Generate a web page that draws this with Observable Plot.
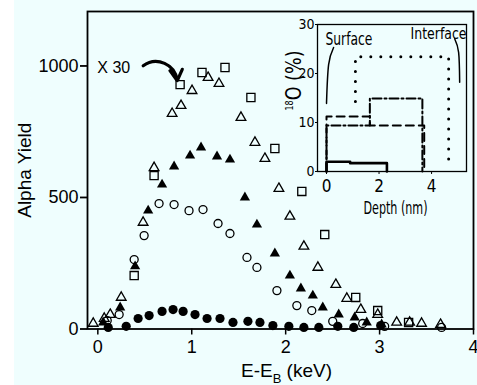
<!DOCTYPE html>
<html><head><meta charset="utf-8">
<script src="https://cdn.jsdelivr.net/npm/d3@7"></script>
<script src="https://cdn.jsdelivr.net/npm/@observablehq/plot@0.6"></script>
<style>
body{margin:0;background:#fff;}
#wrap{position:relative;width:477px;height:385px;overflow:hidden;}
#bg{position:absolute;left:14px;top:0;width:463px;height:385px;background:#effefe;}
#main{position:absolute;left:14px;top:0;}
#inset{position:absolute;left:270px;top:0;}
</style></head><body>
<div id="wrap"><div id="bg"></div><div id="main"></div><div id="inset"></div></div>
<script>
// ---- main chart data (E-E_B in keV, alpha yield) ----
const squareX = [0.387,0.599,0.876,1.109,1.354,1.630,1.885,2.172,2.416,2.746,2.980,3.309];
const squareY = [203,583,929,975,994,880,686,523,359,120,70,25];

const openTriX = [-0.049,0.068,0.132,0.249,0.482,0.599,0.791,0.886,1.003,1.174,1.290,1.524,1.673,1.779,1.928,2.045,2.194,2.343,2.534,2.651,2.800,2.980,3.182,3.320,3.447,3.649];
const openTriY = [21,40,55,120,405,613,819,849,906,956,933,804,709,648,534,428,314,234,169,116,74,55,25,25,21,17];

const fillTriX = [0.057,0.238,0.397,0.536,0.684,0.812,0.982,1.099,1.269,1.407,1.566,1.694,1.885,2.045,2.162,2.289,2.395,2.565,2.735,2.863,3.022];
const fillTriY = [25,82,238,450,549,618,659,690,656,644,500,397,287,203,154,127,82,55,44,25,17];

const openCircX = [0.100,0.227,0.387,0.493,0.652,0.812,0.971,1.120,1.280,1.407,1.588,1.694,1.907,2.119,2.278,2.501,2.820,3.054,3.660];
const openCircY = [32,55,264,355,477,473,450,454,401,363,272,234,146,89,70,29,21,10,6];

const fillCircX = [0.111,0.302,0.429,0.546,0.684,0.801,0.908,1.035,1.163,1.301,1.439,1.598,1.726,1.864,2.034,2.194,2.353,2.555,2.725,3.012];
const fillCircY = [6,10,40,51,67,74,67,55,40,40,25,29,25,13,10,6,6,10,6,13];

const xTicks = [0,1,2,3,4];
const yTicks = [0,500,1000];
const yLabel = "Alpha Yield";
const xLabelParts = ["E-E", "B", " (keV)"];

// annotation "X 30" and its arrow (data coordinates)
const x30Text = ["X 30"];
const x30Pos = {x: [-0.006], y: [992]};
const arrowFrom = {x: 0.483, y: 1001};
const arrowTo = {x: 0.846, y: 944};

// ---- inset data (depth nm, 18O %) ----
const solidDepth = [0, 0, 0.9, 0.9, 2.3, 2.3];
const solidPct   = [0, 2.0, 2.0, 1.7, 1.7, 0];
const dashDepth  = [0, 0, 1.65, 1.65, 3.72, 3.72];
const dashPct    = [0, 11.2, 11.2, 9.4, 9.4, 0];
const dashDotDepth = [0, 0, 1.65, 1.65, 3.65, 3.65];
const dashDotPct   = [0, 9.4, 9.4, 14.9, 14.9, 0];
const dotDepth = [1.1, 1.1, 4.65, 4.65];
const dotPct   = [14.3, 23.4, 23.4, 2.5];
const insetXTicks = [0,2,4];
const insetYTicks = [0,10,20,30];
const surfaceLeader = {x: [0.27, 0.08, 0.0], y: [25.3, 21.8, 13.9]};
const interfaceLeader = {x: [4.88, 5.03, 5.07], y: [27.1, 24.3, 18.2]};
const surfaceLabel = {text: ["Surface"], x: [-0.04], y: [26.9]};
const interfaceLabel = {text: ["Interface"], x: [3.2], y: [28.0]};
const insetXLabel = "Depth (nm)";
const insetYLabelParts = ["18", "O (%)"];

const FONT = "'Liberation Sans', Arial, Helvetica, sans-serif";
const NARROW = "'Liberation Sans Narrow', 'DejaVu Sans Condensed', 'Liberation Sans', sans-serif";
const rows = (xs, ys) => xs.map((x, i) => ({x, y: ys[i]}));
const ns = "http://www.w3.org/2000/svg";

const main = Plot.plot({
  width: 463, height: 385,
  marginLeft: 73, marginRight: 4, marginTop: 11, marginBottom: 56.5,
  style: {background: "transparent", fontFamily: FONT, fontSize: "18px", color: "black"},
  x: {domain: [-0.11, 4.0]},
  y: {domain: [0, 1207]},
  marks: [
    Plot.frame({stroke: "black", strokeWidth: 1.8}),
    Plot.axisY(yTicks, {tickSize: 7, tickPadding: 2, tickFormat: "d", label: null, fontSize: 18, strokeWidth: 1.8}),
    Plot.axisX(xTicks, {tickSize: 6, tickPadding: 5, tickFormat: "d", label: null, fontSize: 18, strokeWidth: 1.5}),
    Plot.dot(rows(fillCircX, fillCircY), {x: "x", y: "y", r: 4.6, fill: "black", stroke: "none"}),
    Plot.dot(rows(openCircX, openCircY), {x: "x", y: "y", r: 4, fill: "none", stroke: "black", strokeWidth: 1.3}),
    Plot.dot(rows(fillTriX, fillTriY), {x: "x", y: "y", r: 3.8, symbol: "triangle", fill: "black", stroke: "none"}),
    Plot.dot(rows(openTriX, openTriY), {x: "x", y: "y", r: 3.6, symbol: "triangle", fill: "none", stroke: "black", strokeWidth: 1.3}),
    Plot.dot(rows(squareX, squareY), {x: "x", y: "y", r: 4.6, symbol: "square", fill: "none", stroke: "black", strokeWidth: 1.3}),
    Plot.text(x30Text, {x: x30Pos.x, y: x30Pos.y, text: d => d, textAnchor: "start", fontSize: 16}),
    Plot.arrow([0], {x1: arrowFrom.x, y1: arrowFrom.y, x2: arrowTo.x, y2: arrowTo.y, bend: 60, strokeWidth: 3.2, headLength: 9, stroke: "black"}),
    Plot.text([yLabel], {frameAnchor: "left", textAnchor: "middle", lineAnchor: "middle", rotate: -90, dx: -63, fontSize: 19}),
    Plot.text([xLabelParts.join("")], {frameAnchor: "bottom", textAnchor: "middle", lineAnchor: "middle", dx: 6, dy: 42, fontSize: 19})
  ]
});
document.getElementById("main").appendChild(main);

// build subscript in x label
for (const t of main.querySelectorAll("text")) {
  if (t.textContent === xLabelParts.join("")) {
    while (t.firstChild) t.removeChild(t.firstChild);
    const a = document.createElementNS(ns, "tspan"); a.textContent = xLabelParts[0];
    const b = document.createElementNS(ns, "tspan"); b.textContent = xLabelParts[1];
    b.setAttribute("font-size", "13"); b.setAttribute("dy", "6");
    const c = document.createElementNS(ns, "tspan"); c.textContent = xLabelParts[2];
    c.setAttribute("dy", "-6");
    t.append(a, b, c);
  }
}

const inset = Plot.plot({
  width: 207, height: 220,
  marginLeft: 47, marginRight: 11, marginTop: 24, marginBottom: 49,
  style: {background: "transparent", fontFamily: NARROW, fontSize: "13px", color: "black"},
  x: {domain: [-0.343, 5.33]},
  y: {domain: [0, 30]},
  marks: [
    Plot.frame({stroke: "black", strokeWidth: 1.3}),
    Plot.axisY(insetYTicks, {tickSize: 2, tickPadding: 1, tickFormat: "d", label: null, fontSize: 14}),
    Plot.axisX(insetXTicks, {tickSize: 3, tickPadding: 5, tickFormat: "d", label: null, fontSize: 17}),
    Plot.line(rows(solidDepth, solidPct), {x: "x", y: "y", stroke: "black", strokeWidth: 2.6}),
    Plot.line(rows(dashDepth, dashPct), {x: "x", y: "y", stroke: "black", strokeWidth: 2, strokeDasharray: "8,5"}),
    Plot.line(rows(dashDotDepth, dashDotPct), {x: "x", y: "y", stroke: "black", strokeWidth: 2, strokeDasharray: "9,3,2,3"}),
    Plot.line(rows(dotDepth, dotPct), {x: "x", y: "y", stroke: "black", strokeWidth: 3, strokeDasharray: "0,10", strokeLinecap: "round"}),
    Plot.line(rows(surfaceLeader.x, surfaceLeader.y), {x: "x", y: "y", curve: "natural", stroke: "black", strokeWidth: 1.5}),
    Plot.line(rows(interfaceLeader.x, interfaceLeader.y), {x: "x", y: "y", curve: "natural", stroke: "black", strokeWidth: 1.5}),
    Plot.text(surfaceLabel.text, {x: surfaceLabel.x, y: surfaceLabel.y, text: d => d, textAnchor: "start", fontSize: 17}),
    Plot.text(interfaceLabel.text, {x: interfaceLabel.x, y: interfaceLabel.y, text: d => d, textAnchor: "start", fontSize: 15}),
    Plot.text([insetXLabel], {frameAnchor: "bottom", textAnchor: "middle", lineAnchor: "middle", dx: 3.5, dy: 37, fontSize: 18}),
    Plot.text([insetYLabelParts.join("")], {frameAnchor: "left", textAnchor: "middle", lineAnchor: "middle", rotate: -90, dx: -24, dy: -17.5, fontSize: 22})
  ]
});
document.getElementById("inset").appendChild(inset);

// condensed look of the inset lettering, as in the reference
const condensed = {"Surface": 47, "Interface": 56, "Depth (nm)": 64};
for (const t of inset.querySelectorAll("text")) {
  const s = t.textContent;
  if (condensed[s]) {
    t.setAttribute("textLength", condensed[s]);
    t.setAttribute("lengthAdjust", "spacingAndGlyphs");
  }
  if (s === insetYLabelParts.join("")) {
    while (t.firstChild) t.removeChild(t.firstChild);
    const a = document.createElementNS(ns, "tspan"); a.textContent = insetYLabelParts[0];
    a.setAttribute("font-size", "10"); a.setAttribute("dy", "-8");
    const b = document.createElementNS(ns, "tspan"); b.textContent = insetYLabelParts[1];
    b.setAttribute("dy", "8");
    t.append(a, b);
    t.setAttribute("textLength", 60);
    t.setAttribute("lengthAdjust", "spacingAndGlyphs");
  }
}
</script>
</body></html>
